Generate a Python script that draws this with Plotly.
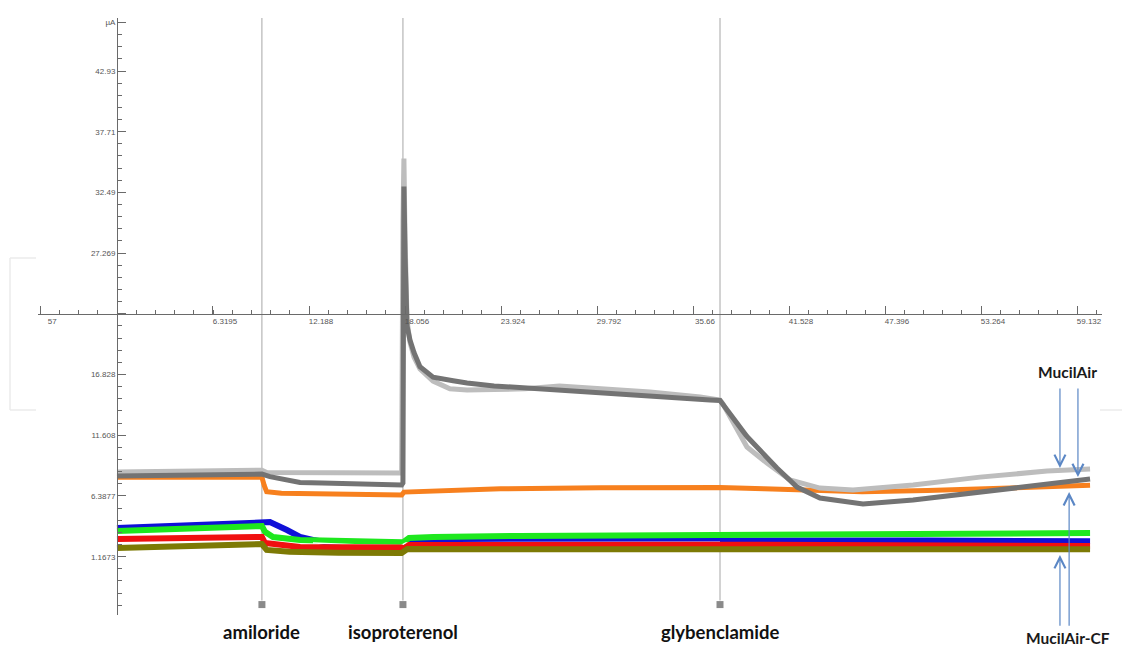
import plotly.graph_objects as go

# ---------------- data (time in x-axis units, current in µA) ----------------
x_tickvals = [-4.242, 0.452, 6.3195, 12.188, 18.056, 23.924, 29.792, 35.66, 41.528, 47.396, 53.264, 59.132]
x_ticktext = ["57", "", "6.3195", "12.188", "18.056", "23.924", "29.792", "35.66", "41.528", "47.396", "53.264", "59.132"]
y_tickvals = [47.106, 42.93, 37.71, 32.49, 27.269, 22.049, 16.828, 11.608, 6.3877, 1.1673]
y_ticktext = ["µA", "42.93", "37.71", "32.49", "27.269", "", "16.828", "11.608", "6.3877", "1.1673"]

event_names = ["amiloride", "isoproterenol", "glybenclamide"]
event_times = [9.31, 17.93, 37.31]

lightgray_t = [0.45, 3.0, 6.0, 9.31, 9.6, 12.0, 15.0, 17.85, 17.93, 17.99, 18.06, 18.12, 18.18, 18.36,
               18.61, 18.97, 19.77, 20.8, 21.85, 23.5, 25.39, 27.5, 29.98, 33.03, 36.1, 37.31, 37.49,
               38.96, 40.18, 41.59, 43.42, 45.44, 49.11, 53.2, 57.3, 59.93]
lightgray_v = [8.44, 8.50, 8.55, 8.61, 8.40, 8.36, 8.36, 8.36, 30.0, 35.4, 28.5, 23.5, 21.5, 19.6,
               18.3, 17.3, 16.27, 15.6, 15.5, 15.55, 15.6, 15.85, 15.6, 15.32, 14.89, 14.64, 14.3,
               10.6, 9.22, 7.76, 7.07, 6.90, 7.33, 8.01, 8.53, 8.70]

darkgray_t = [0.45, 4.0, 9.31, 9.8, 11.0, 11.64, 13.0, 15.0, 17.85, 17.93, 17.99, 18.06, 18.12, 18.18,
              18.36, 18.61, 18.97, 19.77, 21.0, 21.85, 23.5, 25.39, 27.53, 29.98, 33.03, 36.7, 37.31,
              38.96, 40.79, 42.02, 43.42, 46.05, 49.11, 53.2, 57.3, 59.93]
darkgray_v = [8.10, 8.20, 8.27, 8.05, 7.70, 7.55, 7.50, 7.45, 7.33, 7.5, 33.0, 27.0, 23.0, 21.0,
              19.8, 18.7, 17.5, 16.61, 16.3, 16.10, 15.85, 15.67, 15.50, 15.24, 14.89, 14.64, 14.6,
              11.5, 8.79, 7.15, 6.21, 5.69, 6.04, 6.72, 7.50, 7.84]

orange_t = [0.45, 9.31, 9.45, 9.6, 10.5, 14.0, 17.85, 17.99, 20.0, 23.9, 29.98, 37.31, 40.0, 43.4, 46.0, 50.0, 54.4, 59.93]
orange_v = [8.0, 8.0, 7.3, 6.75, 6.62, 6.55, 6.47, 6.72, 6.85, 7.0, 7.1, 7.12, 7.0, 6.8, 6.75, 6.85, 7.05, 7.3]

blue_t = [0.45, 9.31, 9.8, 10.84, 11.64, 12.43, 13.5, 15.31, 17.85, 17.99, 18.5, 25.0, 37.31, 50.0, 59.93]
blue_v = [3.63, 4.14, 4.14, 3.46, 2.86, 2.6, 2.35, 2.17, 2.08, 2.3, 2.5, 2.55, 2.6, 2.55, 2.5]

green_t = [0.45, 9.31, 9.5, 9.99, 11.64, 15.0, 17.6, 17.93, 18.3, 19.8, 25.0, 37.31, 50.0, 59.93]
green_v = [3.37, 3.80, 3.3, 2.86, 2.6, 2.5, 2.43, 2.4, 2.77, 2.86, 2.95, 3.05, 3.15, 3.2]

white_t = [12.43, 15.0, 17.8, 18.1, 25.0, 37.31]
white_v = [2.35, 2.2, 2.12, 2.35, 2.38, 2.4]

red_t = [0.45, 9.31, 9.5, 10.4, 11.64, 17.85, 17.99, 18.3, 25.0, 37.31, 59.93]
red_v = [2.68, 2.86, 2.34, 2.17, 2.0, 1.95, 1.85, 2.17, 2.2, 2.2, 2.08]

olive_t = [0.45, 9.31, 9.6, 11.0, 14.0, 17.85, 18.2, 30.0, 59.93]
olive_v = [1.91, 2.25, 1.75, 1.6, 1.5, 1.48, 1.82, 1.85, 1.8]

# ---------------- layout geometry ----------------
W, H = 1132, 645
OFF = 8  # page body margin
ML, MR, MT, MB = 30, 38, 10, 38
X0, X1 = -4.377, 60.66
Y0, Y1 = -3.846, 47.487
PW, PH = W - ML - MR, H - MT - MB


def px_x(p):
    return (p - OFF - ML) / PW


def px_y(p):
    return 1 - (p - OFF - MT) / PH


fig = go.Figure()

series = [
    (orange_t, orange_v, "#f7801e", 5),
    (lightgray_t, lightgray_v, "#bdbdbd", 5),
    (darkgray_t, darkgray_v, "#737373", 5),
    (blue_t, blue_v, "#1010d8", 6),
    (green_t, green_v, "#1ee81e", 6),
    (white_t, white_v, "#ffffff", 1.5),
    (red_t, red_v, "#f01010", 6),
    (olive_t, olive_v, "#7d7a05", 6),
]
for t, v, c, w in series:
    fig.add_trace(go.Scatter(x=t, y=v, mode="lines", line=dict(color=c, width=w),
                             hoverinfo="skip", showlegend=False, cliponaxis=False))

# event markers
fig.add_trace(go.Scatter(x=event_times, y=[-2.95] * len(event_times), mode="markers",
                         marker=dict(symbol="square", size=7, color="#8a8a8a"),
                         showlegend=False, hoverinfo="skip", cliponaxis=False))

# event lines
for et in event_times:
    fig.add_shape(type="line", xref="x", yref="y", x0=et, x1=et, y0=-2.6, y1=Y1,
                  line=dict(color="#a6a6a6", width=1), layer="below")

# event labels
for name, et in zip(event_names, event_times):
    fig.add_annotation(x=et, y=px_y(632), xref="x", yref="paper", text="<b>%s</b>" % name,
                       showarrow=False, yanchor="middle",
                       font=dict(family="Lato", size=18.5, color="#111"))

# MucilAir labels and arrows
arrow_col = "#5b87c5"
fig.add_annotation(x=58.57, y=px_y(372), xref="x", yref="paper", text="<b>MucilAir</b>",
                   showarrow=False, yanchor="middle", font=dict(family="Lato", size=15.5, color="#1a1a1a"))
fig.add_annotation(x=58.57, y=px_y(638), xref="x", yref="paper", text="<b>MucilAir-CF</b>",
                   showarrow=False, yanchor="middle", font=dict(family="Lato", size=15.5, color="#1a1a1a"))
for hx, hy, ty in [(58.09, 8.79, 15.75), (59.19, 8.01, 15.75), (58.09, 1.31, -4.89), (58.65, 6.72, -4.89)]:
    fig.add_annotation(x=hx, y=hy, ax=hx, ay=ty, xref="x", yref="y", axref="x", ayref="y",
                       text="", showarrow=True, arrowhead=5, arrowsize=1.8, arrowwidth=1.2,
                       arrowcolor=arrow_col)

# faint decorative frame at left
for x0, y0, x1, y1 in [(10, 258, 10, 410), (10, 258, 36, 258), (10, 410, 36, 410), (1100, 410, 1122, 410)]:
    fig.add_shape(type="line", xref="paper", yref="paper", x0=px_x(x0), x1=px_x(x1),
                  y0=px_y(y0), y1=px_y(y1), line=dict(color="#ebebeb", width=1.5), layer="below")

tickfont = dict(family="Liberation Sans", size=8, color="#555")
fig.update_layout(
    width=W, height=H, margin=dict(l=ML, r=MR, t=MT, b=MB),
    paper_bgcolor="white", plot_bgcolor="white", showlegend=False,
    xaxis=dict(range=[X0, X1], anchor="free", position=(22.049 - Y0) / (Y1 - Y0), automargin=False,
               showgrid=False, zeroline=False, showline=True, linecolor="#6a6a6a", linewidth=1,
               tickmode="array", tickvals=x_tickvals, ticktext=x_ticktext, ticks="inside",
               ticklen=8, tickcolor="#6a6a6a", tickfont=tickfont, ticklabelshift=12,
               minor=dict(tick0=0.452, dtick=1.1736, ticks="inside", ticklen=4, tickcolor="#6a6a6a")),
    yaxis=dict(range=[Y0, Y1], anchor="free", position=(0.452 - X0) / (X1 - X0), automargin=False,
               showgrid=False, zeroline=False, showline=True, linecolor="#6a6a6a", linewidth=1,
               tickmode="array", tickvals=y_tickvals, ticktext=y_ticktext, ticks="inside",
               ticklen=8, tickcolor="#6a6a6a", tickfont=tickfont,
               minor=dict(tick0=42.93, dtick=1.044, ticks="inside", ticklen=4, tickcolor="#6a6a6a")),
)

fig.write_html("out.html")
